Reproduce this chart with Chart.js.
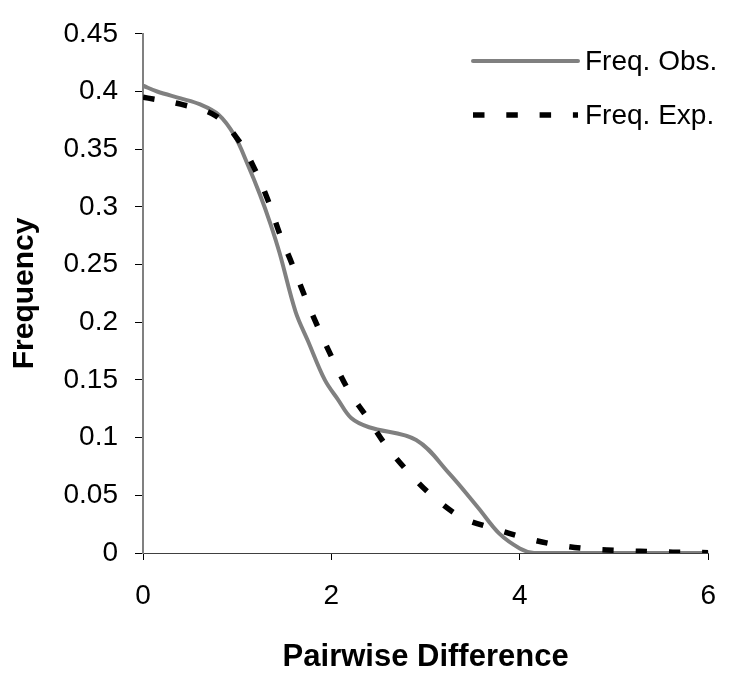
<!DOCTYPE html>
<html>
<head>
<meta charset="utf-8">
<script src="https://cdn.jsdelivr.net/npm/chart.js@4.4.1/dist/chart.umd.min.js"></script>
<style>
  html, body { margin: 0; padding: 0; background: #fff; }
  #wrap { width: 735px; height: 673px; }
</style>
</head>
<body>
<div id="wrap"><canvas id="chartCanvas" width="735" height="673"></canvas></div>
<script>
// mismatch distribution: observed vs expected frequencies
const obsX = [0, 0.15, 0.4, 0.6, 0.8, 0.97, 1.11, 1.24, 1.35, 1.45, 1.62, 1.75, 1.93, 2.07, 2.21, 2.4, 2.9, 3.25, 3.56, 3.78, 4.0, 4.15, 4.5, 5.0, 6.0];
const obsY = [0.405, 0.400, 0.394, 0.389, 0.380, 0.362, 0.337, 0.311, 0.286, 0.260, 0.209, 0.184, 0.150, 0.133, 0.117, 0.109, 0.098, 0.069, 0.039, 0.017, 0.004, 0, 0, 0, 0];

const expX = [0, 0.4, 0.77, 1.02, 1.19, 1.33, 1.45, 1.58, 1.71, 1.85, 2.02, 2.19, 2.4, 2.59, 2.83, 3.05, 3.38, 3.73, 4.06, 4.4, 4.75, 5.1, 5.45, 5.8, 6.0];
const expY = [0.395, 0.389, 0.379, 0.357, 0.332, 0.305, 0.277, 0.251, 0.224, 0.197, 0.167, 0.140, 0.115, 0.092, 0.069, 0.051, 0.031, 0.021, 0.013, 0.007, 0.0035, 0.002, 0.001, 0.0005, 0.0003];

const seriesNames = ['Freq. Obs.', 'Freq. Exp.'];
const xTickValues = [0, 2, 4, 6];
const yTickValues = [0, 0.05, 0.1, 0.15, 0.2, 0.25, 0.3, 0.35, 0.4, 0.45];

const FONT = "'Liberation Sans', Arial, sans-serif";

function toPoints(xs, ys) {
  return xs.map((x, i) => ({ x: x, y: ys[i] }));
}

// legend drawn by hand so the dashed sample looks like a plain line
const lineLegend = {
  id: 'lineLegend',
  afterDraw(chart) {
    const ctx = chart.ctx;
    const x0 = 473, x1 = 578, textX = 585;
    const rows = [61, 115];
    ctx.save();
    chart.data.datasets.forEach((ds, i) => {
      const y = rows[i];
      ctx.beginPath();
      ctx.strokeStyle = ds.borderColor;
      ctx.lineWidth = ds.borderWidth;
      ctx.lineCap = ds.borderCapStyle || 'butt';
      ctx.setLineDash(ds.borderDash || []);
      ctx.moveTo(x0, y);
      ctx.lineTo(x1, y);
      ctx.stroke();
      ctx.setLineDash([]);
      ctx.fillStyle = '#000';
      ctx.font = '28px ' + FONT;
      ctx.textAlign = 'left';
      ctx.textBaseline = 'middle';
      ctx.fillText(ds.label, textX, y + 1);
    });
    ctx.restore();
  }
};

new Chart(document.getElementById('chartCanvas').getContext('2d'), {
  type: 'line',
  data: {
    datasets: [
      {
        label: seriesNames[0],
        data: toPoints(obsX, obsY),
        borderColor: '#808080',
        borderWidth: 4,
        borderCapStyle: 'round',
        tension: 0.35,
        pointRadius: 0,
        fill: false,
        order: 1
      },
      {
        label: seriesNames[1],
        data: toPoints(expX, expY),
        borderColor: '#000000',
        borderWidth: 5.5,
        borderDash: [11.5, 21.8],
        borderCapStyle: 'butt',
        tension: 0.35,
        pointRadius: 0,
        fill: false,
        order: 0
      }
    ]
  },
  options: {
    responsive: false,
    animation: false,
    layout: { padding: { top: 24, right: 12, left: 0, bottom: 0 } },
    plugins: {
      legend: { display: false },
      tooltip: { enabled: false }
    },
    scales: {
      x: {
        type: 'linear',
        min: 0,
        max: 6,
        afterBuildTicks(scale) { scale.ticks = xTickValues.map(v => ({ value: v })); },
        afterFit(scale) { scale.height = 120; },
        ticks: {
          color: '#000',
          font: { family: FONT, size: 28 },
          padding: 19,
          maxRotation: 0,
          callback: v => String(v)
        },
        grid: { display: true, drawOnChartArea: false, drawTicks: true, tickLength: 7, color: '#000', lineWidth: 1 },
        border: { display: true, color: '#404040', width: 1 },
        title: {
          display: true,
          text: 'Pairwise Difference',
          color: '#000',
          font: { family: FONT, size: 31, weight: 'bold', lineHeight: 1 },
          padding: { top: 0, bottom: 0 }
        }
      },
      y: {
        min: 0,
        max: 0.45,
        afterBuildTicks(scale) { scale.ticks = yTickValues.map(v => ({ value: v })); },
        afterFit(scale) { scale.width = 143; },
        ticks: {
          color: '#000',
          font: { family: FONT, size: 28 },
          padding: 17,
          callback: v => String(+v.toFixed(2))
        },
        grid: { display: true, drawOnChartArea: false, drawTicks: true, tickLength: 8, color: '#000', lineWidth: 1 },
        border: { display: true, color: '#808080', width: 2 },
        title: {
          display: true,
          text: 'Frequency',
          color: '#000',
          font: { family: FONT, size: 30, weight: 'bold', lineHeight: 1 },
          padding: { top: 10, bottom: 0 }
        }
      }
    }
  },
  plugins: [lineLegend]
});
</script>
</body>
</html>
